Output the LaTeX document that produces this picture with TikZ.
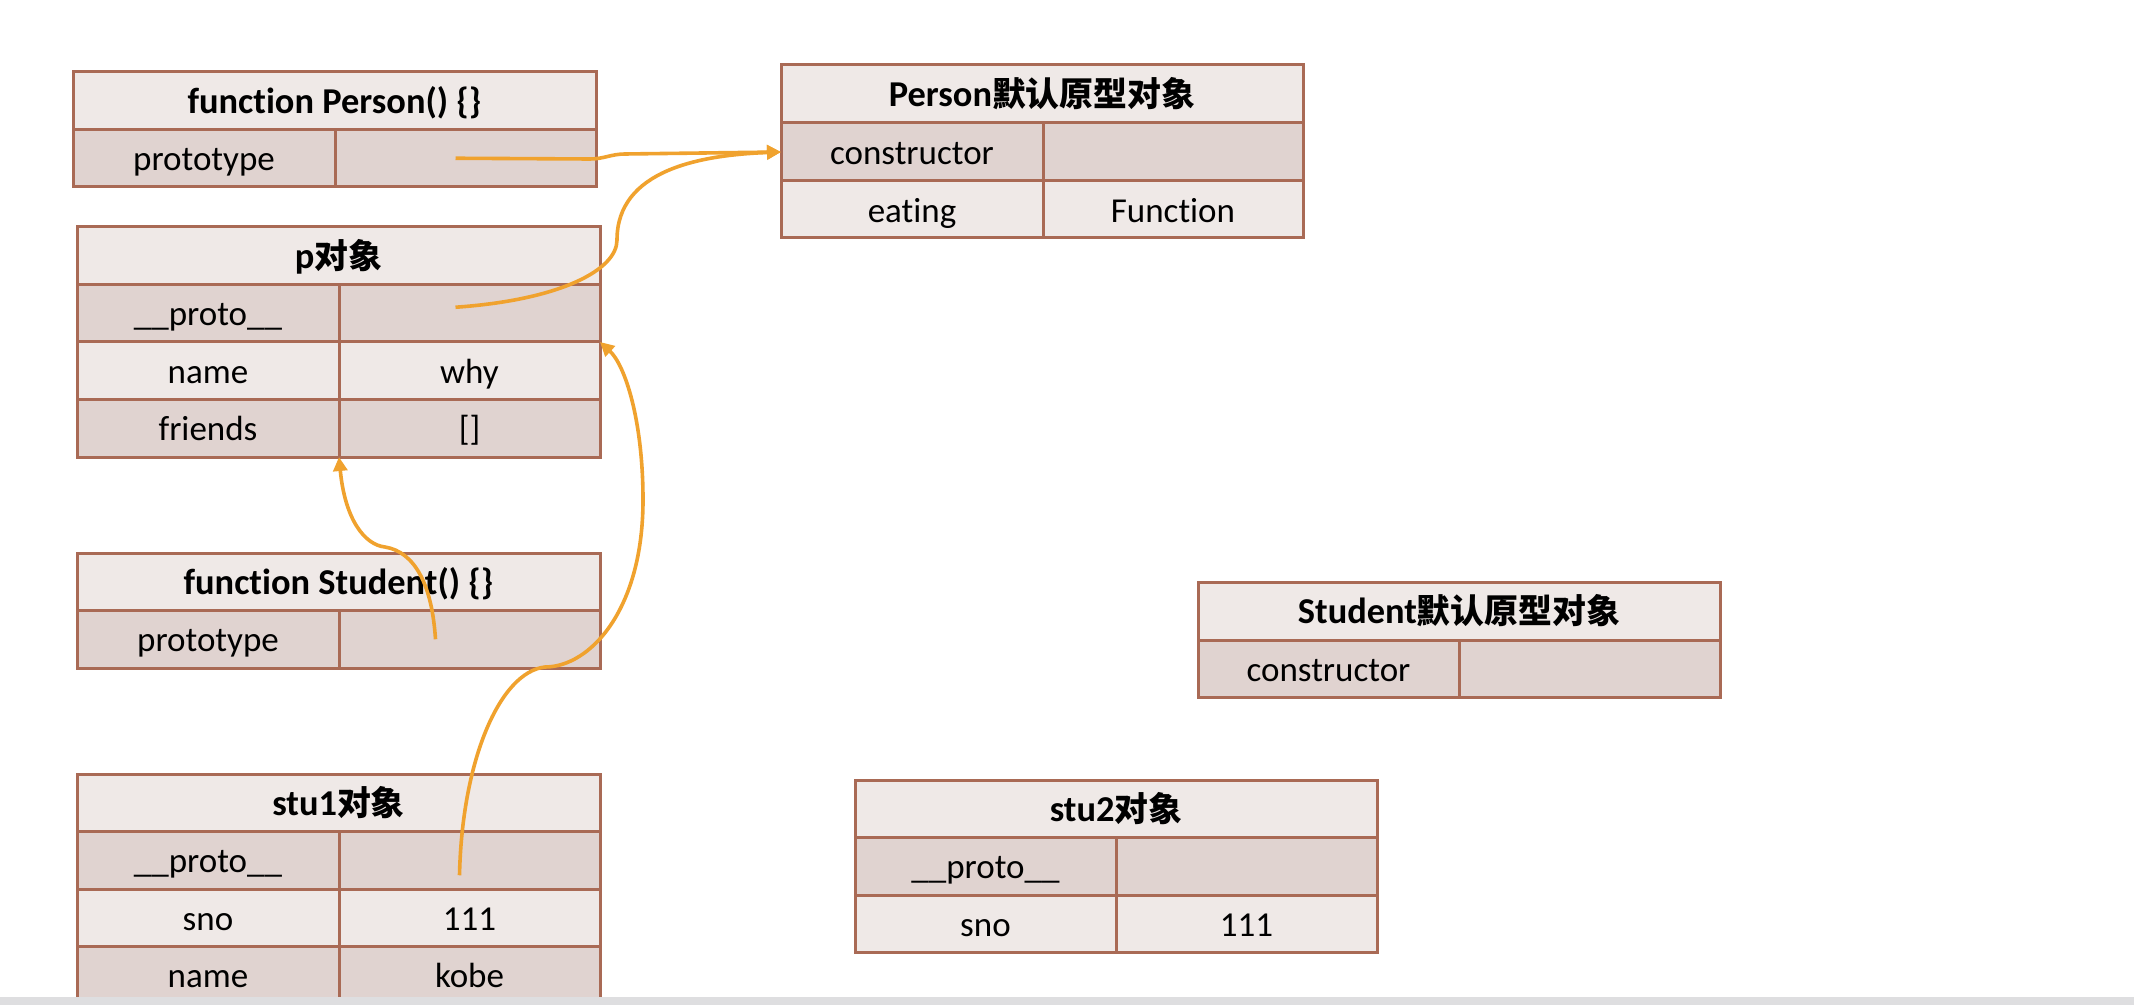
\documentclass[tikz,border=0pt]{standalone}
\usepackage{fontspec}
\setmainfont{Carlito}[Ligatures=NoCommon]
\newfontfamily\cjk{Noto Sans CJK SC}[Scale=0.93]
\usetikzlibrary{arrows.meta}
\definecolor{bordc}{HTML}{A96A55}
\definecolor{lightc}{HTML}{EFE9E7}
\definecolor{darkc}{HTML}{E0D3D0}
\definecolor{arrc}{HTML}{F0A22E}
\definecolor{barc}{HTML}{DEDEE0}
\newcommand\cellnode[7]{%
  \node[cellbox, fill=#6, minimum width={(#4-#2)*0.5pt}, minimum height={(#5-#3)*0.5pt}] (#1) at ({(#2+#4)/2},{(#3+#5)/2}) {#7};}
\newcommand\hd[1]{\fontsize{18.2pt}{21pt}\selectfont\bfseries #1}
\begin{document}
\begin{tikzpicture}[x=0.5pt,y=-0.5pt,
  cellbox/.style={draw=bordc, line width=1.5pt, rectangle, inner sep=0pt, outer sep=0pt,
    font=\fontsize{17.5pt}{21pt}\selectfont, text=black, text height=16pt, text depth=3.4pt},
  link/.style={draw=arrc, line width=1.8pt, -{Triangle[length=7pt,width=7pt]}}]
\fill[white] (0,0) rectangle (2134,1005);
\useasboundingbox (0,0) rectangle (2134,1005);
% function Person
\cellnode{PFh}{73}{72}{596}{129.5}{lightc}{\hd{function Person() \{\}}}
\cellnode{PFk}{73}{129.5}{335}{187}{darkc}{prototype}
\cellnode{PFv}{335}{129.5}{596}{187}{darkc}{}
% Person prototype
\cellnode{PPh}{781}{65}{1303}{123}{lightc}{\hd{Person{\cjk 默认原型对象}}}
\cellnode{PPk1}{781}{123}{1043}{181}{darkc}{constructor}
\cellnode{PPv1}{1043}{123}{1303}{181}{darkc}{}
\cellnode{PPk2}{781}{181}{1043}{238}{lightc}{eating}
\cellnode{PPv2}{1043}{181}{1303}{238}{lightc}{Function}
% p object
\cellnode{Ph}{77}{227}{600}{284.5}{lightc}{\hd{p{\cjk 对象}}}
\cellnode{Pk1}{77}{284.5}{339}{342}{darkc}{\_\_proto\_\_}
\cellnode{Pv1}{339}{284.5}{600}{342}{darkc}{}
\cellnode{Pk2}{77}{342}{339}{399.5}{lightc}{name}
\cellnode{Pv2}{339}{342}{600}{399.5}{lightc}{why}
\cellnode{Pk3}{77}{399.5}{339}{457}{darkc}{friends}
\cellnode{Pv3}{339}{399.5}{600}{457}{darkc}{[]}
% function Student
\cellnode{SFh}{77}{553}{600}{610.5}{lightc}{\hd{function Student() \{\}}}
\cellnode{SFk}{77}{610.5}{339}{668}{darkc}{prototype}
\cellnode{SFv}{339}{610.5}{600}{668}{darkc}{}
% Student prototype
\cellnode{SPh}{1198}{582.5}{1720}{640}{lightc}{\hd{Student{\cjk 默认原型对象}}}
\cellnode{SPk}{1198}{640}{1459}{697.5}{darkc}{constructor}
\cellnode{SPv}{1459}{640}{1720}{697.5}{darkc}{}
% stu1
\cellnode{S1h}{77}{774}{600}{831.5}{lightc}{\hd{stu1{\cjk 对象}}}
\cellnode{S1k1}{77}{831.5}{339}{889}{darkc}{\_\_proto\_\_}
\cellnode{S1v1}{339}{831.5}{600}{889}{darkc}{}
\cellnode{S1k2}{77}{889}{339}{946.5}{lightc}{sno}
\cellnode{S1v2}{339}{889}{600}{946.5}{lightc}{111}
\cellnode{S1k3}{77}{946.5}{339}{1004}{darkc}{name}
\cellnode{S1v3}{339}{946.5}{600}{1004}{darkc}{kobe}
% stu2
\cellnode{S2h}{855}{780}{1377}{837.5}{lightc}{\hd{stu2{\cjk 对象}}}
\cellnode{S2k1}{855}{837.5}{1116}{895}{darkc}{\_\_proto\_\_}
\cellnode{S2v1}{1116}{837.5}{1377}{895}{darkc}{}
\cellnode{S2k2}{855}{895}{1116}{952.5}{lightc}{sno}
\cellnode{S2v2}{1116}{895}{1377}{952.5}{lightc}{111}
% connectors
\draw[link] ([xshift=-5pt]PFv.center) -- (590,159) to[out=0,in=180] (625,154) -- (PPk1.west);
\draw[link] ([xshift=-7pt,yshift=3pt]Pv1.center) .. controls (560,300) and (617,270) .. (617,240)
  .. controls (617,170) and (700,155) .. (PPk1.west);
\draw[link] ([xshift=-17pt]SFv.center) .. controls (432,585) and (415,552) .. (385,547)
  .. controls (365,545) and (345,520) .. (Pv3.south west);
\draw[link] ([xshift=-5pt,yshift=-7.5pt]S1v1.center) .. controls (462,760) and (500,672) .. (545,667)
  .. controls (590,667) and (643,610) .. (643,500)
  .. controls (643,420) and (625,365) .. (Pv1.south east);
% bottom bar
\fill[barc] (0,997) rectangle (2134,1005);
\end{tikzpicture}
\end{document}
